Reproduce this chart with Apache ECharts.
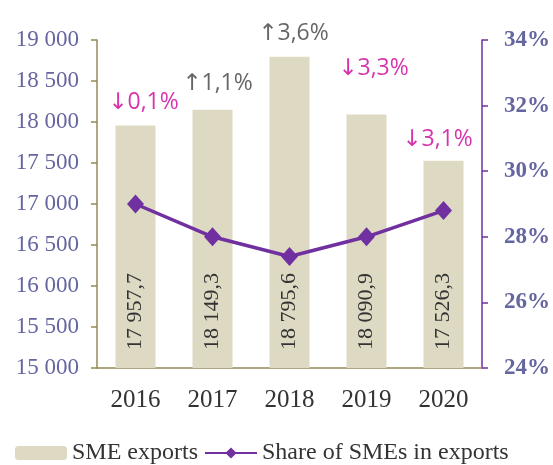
<!DOCTYPE html>
<html>
<head>
<meta charset="utf-8">
<script src="https://cdn.jsdelivr.net/npm/echarts@6/dist/echarts.min.js"></script>
<style>
  html, body { margin: 0; padding: 0; background: #fff; }
  #chart { width: 553px; height: 465px; }
</style>
</head>
<body>
<div id="chart"></div>
<script>
  // SME exports and share of SMEs in exports
  const years = ['2016', '2017', '2018', '2019', '2020'];
  const smeExports = [17957.7, 18149.3, 18795.6, 18090.9, 17526.3];
  const smeShare = [29.0, 28.0, 27.4, 28.0, 28.8];
  const changeLabels = ['↓0,1%', '↑1,1%', '↑3,6%', '↓3,3%', '↓3,1%'];
  const changeUp = [false, true, true, false, false];

  const serif = '"Liberation Serif", "Times New Roman", serif';
  const tickColor = '#6565a0';

  const fmtThousands = (v) => String(v).replace(/\B(?=(\d{3})+(?!\d))/g, ' ');
  const fmtValue = (v) => {
    const parts = v.toFixed(1).split('.');
    return fmtThousands(parts[0]) + ',' + parts[1];
  };

  // offsets of the change labels, relative to bar top
  const changeOffsets = [[8, -12], [5, -15], [4, -12], [7, -35], [-6, -10]];

  const chart = echarts.init(document.getElementById('chart'));

  const option = {
    animation: false,
    grid: { left: 97, right: 70, top: 40, bottom: 97 },
    legend: {
      data: ['SME exports', 'Share of SMEs in exports'],
      left: 10,
      top: 436,
      itemWidth: 52,
      itemHeight: 14,
      itemGap: 6,
      textStyle: { fontFamily: serif, fontSize: 24, color: '#333' },
    },
    xAxis: {
      type: 'category',
      data: years,
      axisLine: { lineStyle: { color: '#948a54', width: 1.5 } },
      axisTick: { show: false },
      axisLabel: { fontFamily: serif, fontSize: 25, color: '#333', margin: 20 },
    },
    yAxis: [
      {
        type: 'value',
        min: 15000,
        max: 19000,
        interval: 500,
        splitLine: { show: false },
        axisLine: { show: true, lineStyle: { color: '#948a54', width: 1.5 } },
        axisTick: { show: true, length: 6, lineStyle: { color: '#948a54', width: 1.5 } },
        axisLabel: {
          fontFamily: serif,
          fontSize: 23,
          color: tickColor,
          margin: 18,
          formatter: (v) => fmtThousands(v),
        },
      },
      {
        type: 'value',
        min: 24,
        max: 34,
        interval: 2,
        position: 'right',
        splitLine: { show: false },
        axisLine: { show: true, lineStyle: { color: '#7030a0', width: 1.5 } },
        axisTick: { show: true, length: 6, lineStyle: { color: '#7030a0', width: 1.5 } },
        axisLabel: {
          fontFamily: serif,
          fontSize: 23,
          fontWeight: 'bold',
          color: tickColor,
          margin: 22,
          formatter: (v) => v + '%',
        },
      },
    ],
    series: [
      {
        name: 'SME exports',
        type: 'bar',
        data: smeExports,
        barWidth: 40,
        itemStyle: { color: '#ddd9c3' },
        label: {
          show: true,
          position: 'insideBottom',
          rotate: 90,
          align: 'left',
          verticalAlign: 'middle',
          distance: 18,
          fontFamily: serif,
          fontSize: 22,
          color: '#333',
          formatter: (p) => fmtValue(p.value),
        },
      },
      {
        name: 'Share of SMEs in exports',
        type: 'line',
        yAxisIndex: 1,
        data: smeShare,
        symbol: 'diamond',
        symbolSize: [17, 19],
        itemStyle: { color: '#7030a0' },
        lineStyle: { color: '#7030a0', width: 3.5 },
      },
      {
        name: 'changes',
        type: 'scatter',
        data: smeExports.map((v, i) => ({
          value: v,
          label: {
            offset: changeOffsets[i],
            color: changeUp[i] ? '#404040' : '#cc0099',
          },
        })),
        symbolSize: 0,
        silent: true,
        label: {
          show: true,
          position: 'top',
          distance: 0,
          fontFamily: '"Open Sans", "DejaVu Sans", sans-serif',
          fontSize: 23,
          formatter: (p) => changeLabels[p.dataIndex],
        },
      },
    ],
  };

  chart.setOption(option);
</script>
</body>
</html>
